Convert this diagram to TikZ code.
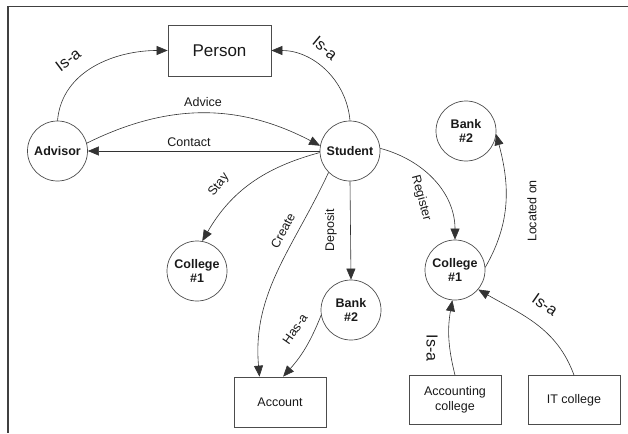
\documentclass[tikz,border=0pt]{standalone}
\usepackage{fontspec}
\setmainfont{Liberation Sans}
\usetikzlibrary{arrows.meta}
\definecolor{linegray}{gray}{0.3}
\definecolor{framegray}{gray}{0.25}
\definecolor{txt}{gray}{0.1}
\begin{document}
\begin{tikzpicture}[x=1pt,y=1pt,
  ent/.style={circle,draw=linegray,line width=0.7pt,minimum size=60pt,inner sep=0pt,align=center,text=txt,font=\fontsize{12.5}{14}\selectfont\bfseries},
  box/.style={rectangle,draw=linegray,line width=0.7pt,align=center,inner sep=0pt,text=txt,font=\fontsize{12.5}{15}\selectfont},
  rel/.style={draw=black!80,line width=0.6pt,-{Triangle[length=11pt,width=9pt]}},
  lab/.style={font=\fontsize{12.5}{14}\selectfont,inner sep=0pt,text=txt},
  isa/.style={font=\fontsize{16}{18}\selectfont,inner sep=0pt,text=txt}]
\useasboundingbox (0,0) rectangle (628,-433);
\draw[line width=1.6pt,framegray] (628,-6.5) -- (8,-6.5) -- (8,-433);

% nodes
\node[box,minimum width=103pt,minimum height=51pt,font=\fontsize{17}{19}\selectfont] (person) at (219.5,-50.5) {Person};
\node[ent] (advisor) at (57.5,-151) {Advisor};
\node[ent] (student) at (350,-151) {Student};
\node[ent] (banktop) at (466,-131) {Bank\\\#2};
\node[ent] (college1) at (197,-271) {College\\\#1};
\node[ent] (bank2) at (351,-310) {Bank\\\#2};
\node[ent] (college2) at (455,-270) {College\\\#1};
\node[box,minimum width=92pt,minimum height=50pt] (account) at (280,-402) {Account};
\node[box,minimum width=92pt,minimum height=49pt] (accounting) at (455,-400) {Accounting\\college};
\node[box,minimum width=92pt,minimum height=49pt] (itcollege) at (574,-400) {IT college};

% connectors
\draw[rel] (advisor.north) to[out=85,in=180] (person.west);
\draw[rel] (student.north) to[out=95,in=0] (person.east);
\draw[rel] (advisor.15) to[bend left=27] (student.170);
\draw[rel] (student.180) -- (advisor.0);
\draw[rel] (student.183) to[out=195,in=60] (college1.80);
\draw[rel] (student.225) to[out=245,in=95] (account.129);
\draw[rel] (student.south) -- (bank2.north);
\draw[rel] (bank2.190) to[bend left=10] (account.83);
\draw[rel] (student.5) to[out=-15,in=90] (college2.north);
\draw[rel] (college2.5) to[out=60,in=-75] (banktop.-6);
\draw[rel] (accounting.north) to[bend left=12] (college2.265);
\draw[rel] (itcollege.north) to[out=110,in=-30] (college2.-40);

% labels
\node[isa,rotate=37] (lisa1) at (68,-60) {Is-a};
\node[isa,rotate=-40] (lisa2) at (325,-48) {Is-a};
\node[lab] (ladvice) at (203,-102) {Advice};
\node[lab] (lcontact) at (189,-142) {Contact};
\node[lab,rotate=52] (lstay) at (219,-185) {Stay};
\node[lab,rotate=62] (lcreate) at (283,-231) {Create};
\node[lab,rotate=90] (ldeposit) at (331,-230) {Deposit};
\node[lab,rotate=55] (lhasa) at (295,-329) {Has-a};
\node[lab,rotate=-75] (lregister) at (421,-198) {Register};
\node[lab,rotate=90] (llocated) at (532,-211) {Located on};
\node[isa,rotate=-90] (lisa3) at (432,-348) {Is-a};
\node[isa,rotate=-35] (lisa4) at (545,-305) {Is-a};
\end{tikzpicture}
\end{document}
